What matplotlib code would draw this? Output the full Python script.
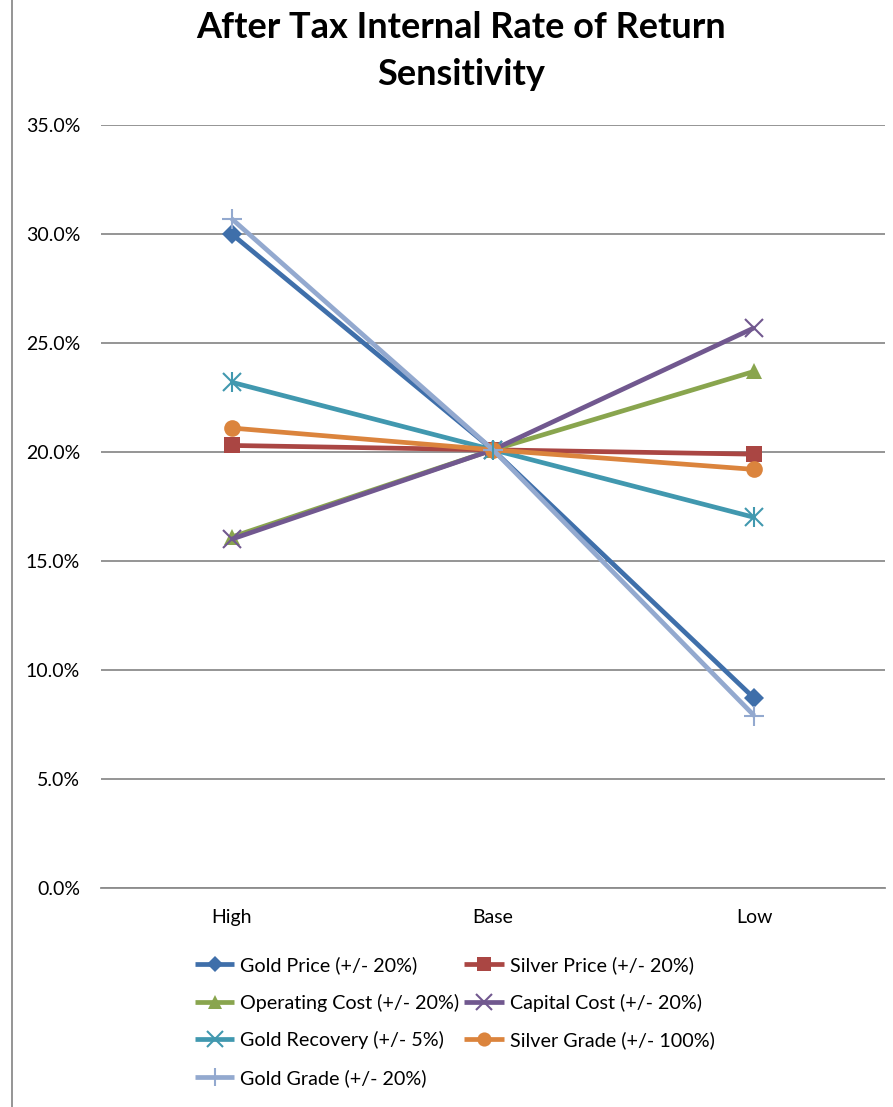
import matplotlib
matplotlib.use("Agg")
import matplotlib.pyplot as plt
from matplotlib.lines import Line2D

plt.rcParams['font.family'] = ['Lato', 'DejaVu Sans']

categories = ["High", "Base", "Low"]

series_names = [
    "Gold Price (+/- 20%)",
    "Silver Price (+/- 20%)",
    "Operating Cost (+/- 20%)",
    "Capital Cost (+/- 20%)",
    "Gold Recovery (+/- 5%)",
    "Silver Grade (+/- 100%)",
    "Gold Grade (+/- 20%)",
]

gold_price = [30.0, 20.1, 8.7]
silver_price = [20.3, 20.1, 19.9]
operating_cost = [16.1, 20.1, 23.7]
capital_cost = [16.0, 20.1, 25.7]
gold_recovery = [23.2, 20.1, 17.0]
silver_grade = [21.1, 20.1, 19.2]
gold_grade = [30.7, 20.1, 7.9]

y_ticks = [0, 5, 10, 15, 20, 25, 30, 35]

values = [gold_price, silver_price, operating_cost, capital_cost,
          gold_recovery, silver_grade, gold_grade]
colors = ["#3F6FAA", "#AA4643", "#89A54E", "#71588F", "#4198AF", "#DB843D", "#93A9CF"]
markers = ["D", "s", "^", "x", "x", "o", "+"]
msizes = [10, 12, 12, 13, 13, 12, 15]

W, H = 893, 1107
fig = plt.figure(figsize=(W / 100, H / 100), dpi=100)
ax = fig.add_axes([101 / W, 1 - 888 / H, (885 - 101) / W, (888 - 125) / H])

x = list(range(len(categories)))
handles = []
for name, vals, c, m, ms in zip(series_names, values, colors, markers, msizes):
    if m in ("x", "+"):
        kw = dict(markeredgewidth=1.5)
    else:
        kw = dict(markeredgewidth=0)
    ln, = ax.plot(x, vals, color=c, lw=3.4, marker=m, markersize=ms,
                  markerfacecolor=c, markeredgecolor=c, label=name,
                  solid_capstyle="butt", **kw)
    handles.append(ln)
# extra vertical strokes turn the Gold Recovery crosses into stars
ax.plot(x, gold_recovery, lw=0, marker="|", markersize=14,
        markeredgewidth=1.5, color=colors[4])

ax.set_xlim(-0.5, 2.5)
ax.set_ylim(0, 35)
ax.set_yticks(y_ticks)
ax.set_yticklabels([f"{v:.1f}%" for v in y_ticks], fontsize=14)
ax.set_xticks(x)
ax.set_xticklabels(categories, fontsize=14)
ax.tick_params(length=0)
ax.tick_params(axis="x", pad=15)
ax.tick_params(axis="y", pad=15)
ax.grid(axis="y", color="#8C8C8C", lw=1.3)
ax.set_axisbelow(True)
for s in ["top", "right", "left"]:
    ax.spines[s].set_visible(False)
ax.spines["bottom"].set_color("#8C8C8C")
ax.spines["bottom"].set_linewidth(1.3)

fig.text(461 / W, 1 - 51 / H, "After Tax Internal Rate of Return\nSensitivity",
         ha="center", va="center", fontsize=26, fontweight="bold",
         linespacing=1.5)

# left border of the chart area
fig.add_artist(Line2D([12 / W, 12 / W], [0, 1], transform=fig.transFigure,
                      color="#8C8C8C", lw=1.3))

# legend filled row-wise: reorder for column-major filling
order = [0, 2, 4, 6, 1, 3, 5]
leg = fig.legend([handles[i] for i in order], [series_names[i] for i in order],
                 ncol=2, loc="upper left", bbox_to_anchor=(185 / W, 1 - 946 / H),
                 frameon=False, fontsize=14.2, handlelength=2.0,
                 handletextpad=0.3, columnspacing=0.25, labelspacing=1.0,
                 borderpad=0)
for h in leg.legend_handles:
    h.set_markersize(h.get_markersize() * 0.85)

fig.savefig("out.png", dpi=100)
